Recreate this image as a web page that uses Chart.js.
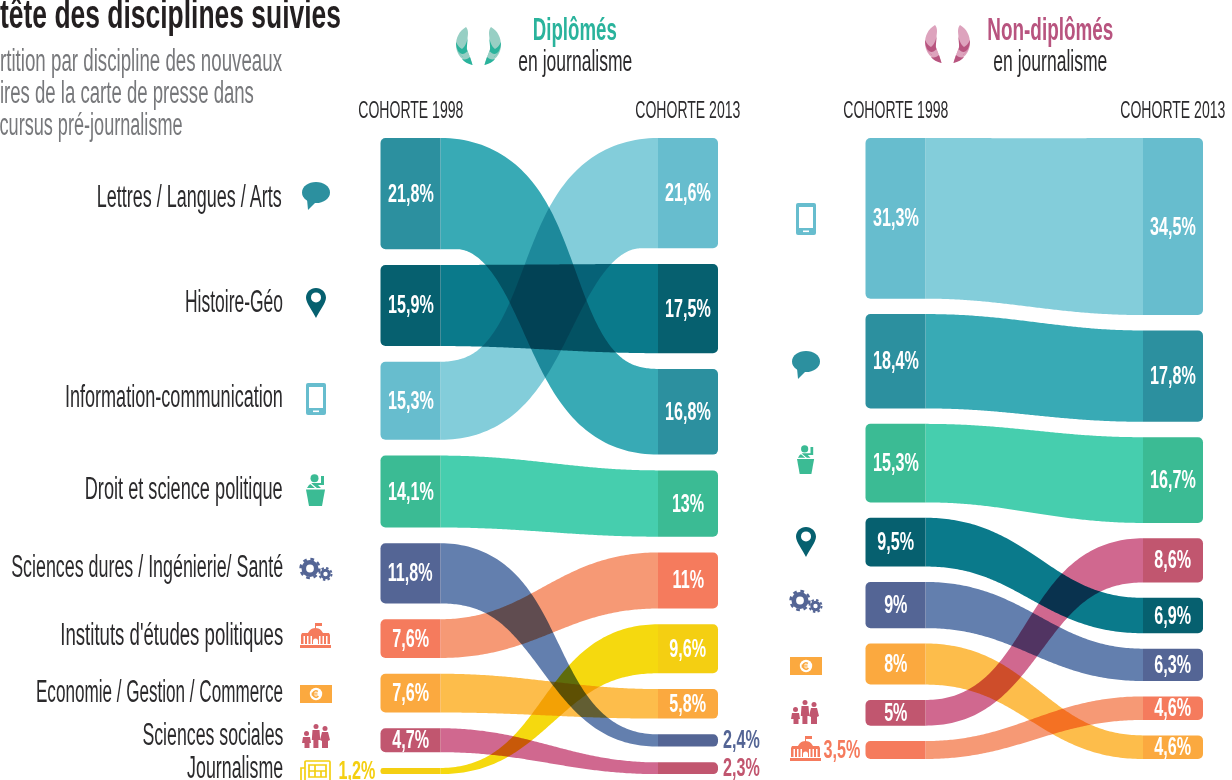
<!DOCTYPE html>
<html lang="fr">
<head>
<meta charset="utf-8">
<title>Disciplines suivies</title>
<script src="https://cdn.jsdelivr.net/npm/chart.js@4"></script>
<style>
html,body{margin:0;padding:0;background:#fff;width:1232px;height:780px;overflow:hidden}
canvas{position:absolute;left:0;top:0}
.t{position:absolute;white-space:nowrap;display:block}
svg.i{position:absolute;overflow:visible}
</style>
</head>
<body>
<canvas id="c1" width="1232" height="780"></canvas>
<canvas id="c2" width="1232" height="780"></canvas>
<script>
// ---------- data ----------
const categories = ['Lettres / Langues / Arts','Histoire-Géo','Information-communication','Droit et science politique','Sciences dures / Ingénierie/ Santé',"Instituts d'études politiques",'Economie / Gestion / Commerce','Sciences sociales','Journalisme'];
const diplomes1998 = [21.8,15.9,15.3,14.1,11.8,7.6,7.6,4.7,1.2];
const diplomes2013 = [16.8,17.5,21.6,13,2.4,11,5.8,2.3,9.6];
const nonDiplomes1998 = [18.4,9.5,31.3,15.3,9,3.5,8,5,null];
const nonDiplomes2013 = [17.8,6.9,34.5,16.7,6.3,4.6,4.6,8.6,null];
const cohortLabels = ['COHORTE 1998','COHORTE 2013'];
const nodeColors = ['#2C909F','#06606F','#67BDCE','#3BBB94','#546595','#F57B5D','#FBA93F','#C1566F','#F4CF12'];
const flowColors = ['#38AAB5','#0A7A8B','#83CDDA','#46CEAE','#637FAE','#F69975','#FDBD4B','#D0688F','#F5D90F'];
const iconNames = ['bubble','pin','phone','lectern','gears','school','euro','people','news'];

// ---------- layout ----------
const FONT = '"Liberation Sans Narrow","Liberation Sans",sans-serif';
const BAR = 60;
const measure = document.createElement('canvas').getContext('2d');
function put(text,o){
  const el=document.createElement('span');el.className='t';el.textContent=text;
  const weight=o.weight||400,size=o.size;
  measure.font=weight+' '+size+'px '+FONT;
  const nat=measure.measureText(text).width;
  const sx=o.w?o.w/nat:(o.sx||1);
  const a=o.anchor||'c';
  const left=a==='r'?o.x-nat:a==='c'?o.x-nat/2:o.x;
  el.style.cssText=`left:${left}px;top:${o.y-size/2}px;font:${weight} ${size}px/${size}px ${FONT};color:${o.color||'#2b2a2c'};transform:scaleX(${sx});transform-origin:${a==='r'?'right':a==='c'?'center':'left'} center`;
  document.body.appendChild(el);
}
function fmt(v){return String(v).replace('.',',')+'%'}

function stack(values,gap){
  const order=values.map((v,i)=>i).filter(i=>values[i]!=null).sort((a,b)=>values[b]-values[a]);
  const out=[];let pos=0;
  order.forEach(i=>{out[i]=[pos,pos+values[i]];pos+=values[i]+gap;});
  return out;
}

// a flow is a sigmoid centre line swept with a width that goes from one cohort's value to the other's
const STEPS=120;
function flowOutline(xa,xb,a0,a1,b0,b1){
  const c0=(a0+a1)/2,c1=(b0+b1)/2,h0=(a1-a0)/2,h1=(b1-b0)/2,w=xb-xa;
  const d=w*(0.38+0.2*Math.min(1,Math.abs(c1-c0)/218));
  const up=[],lo=[];
  for(let k=0;k<=STEPS;k++){
    const t=k/STEPS,u=1-t;
    const px=u*u*u*xa+3*u*u*t*(xa+d)+3*u*t*t*(xb-d)+t*t*t*xb;
    const py=u*u*u*c0+3*u*u*t*c0+3*u*t*t*c1+t*t*t*c1;
    const dx=3*(u*u*d+2*u*t*(w-2*d)+t*t*d);
    const dy=3*2*u*t*(c1-c0);
    const len=Math.hypot(dx,dy)||1;
    const cos=dx/len,sin=dy/len;
    const h=(h0+(h1-h0)*(t*t*(3-2*t)))*(1-0.45*(1-cos));
    up.push([px+sin*h,py-cos*h]);
    lo.push([px-sin*h,py+cos*h]);
  }
  return {up,lo};
}
const ribbonPlugin={
  id:'ribbons',
  beforeDatasetsDraw(chart){
    const {ctx,scales:{x,y}}=chart;
    const xa=x.getPixelForValue(0)+BAR/2, xb=x.getPixelForValue(1)-BAR/2;
    ctx.save();
    ctx.globalCompositeOperation='multiply';
    chart.data.datasets.forEach(ds=>{
      const [a,b]=ds.data;
      const {up,lo}=flowOutline(xa,xb,y.getPixelForValue(a[0]),y.getPixelForValue(a[1]),y.getPixelForValue(b[0]),y.getPixelForValue(b[1]));
      ctx.beginPath();
      up.forEach((p,i)=>i?ctx.lineTo(p[0],p[1]):ctx.moveTo(p[0],p[1]));
      lo.reverse().forEach(p=>ctx.lineTo(p[0],p[1]));
      ctx.closePath();
      ctx.fillStyle=ds.flowColor;
      ctx.fill();
    });
    ctx.restore();
  }
};

function panel(id,v98,v13,gap,maxY,xl,xr,bottom,outside){
  const s98=stack(v98,gap),s13=stack(v13,gap);
  const datasets=categories.map((name,i)=>v98[i]==null?null:({
    label:name,
    data:[s98[i],s13[i]],
    backgroundColor:nodeColors[i],
    flowColor:flowColors[i],
    grouped:false,
    barThickness:BAR,
    clip:false,
    borderWidth:0,
    borderSkipped:false,
    inflateAmount:0,
    borderRadius:c=>{
      const r=Math.min(5,Math.abs(c.parsed._custom?c.parsed._custom.max-c.parsed._custom.min:5)*2);
      return c.dataIndex===0?{topLeft:r,bottomLeft:r,topRight:0,bottomRight:0}:{topLeft:0,bottomLeft:0,topRight:r,bottomRight:r};
    }
  })).filter(Boolean);
  const chart=new Chart(document.getElementById(id),{
    type:'bar',
    data:{labels:cohortLabels,datasets},
    plugins:[ribbonPlugin],
    options:{
      responsive:false,animation:false,
      layout:{padding:{left:xl,right:1232-xr,top:138,bottom:780-bottom}},
      plugins:{legend:{display:false},tooltip:{enabled:false}},
      scales:{
        x:{type:'category',offset:false,display:false},
        y:{type:'linear',reverse:true,min:0,max:maxY,display:false}
      }
    }
  });
  const {x,y}=chart.scales;
  cohortLabels.forEach((l,k)=>put(l,{x:x.getPixelForValue(k),y:109.5,size:24,w:105}));
  [[v98,s98,0],[v13,s13,1]].forEach(([vals,st,k])=>{
    vals.forEach((v,i)=>{
      if(v==null)return;
      const cy=y.getPixelForValue((st[i][0]+st[i][1])/2);
      const cx=x.getPixelForValue(k);
      if(outside[k+':'+i]){
        const left=k===0;
        put(fmt(v),{x:left?cx-BAR/2-5:cx+BAR/2+5,y:cy-1,size:26,weight:700,sx:.62,color:nodeColors[i],anchor:left?'r':'l'});
      }else{
        put(fmt(v),{x:cx,y:cy-1,size:26,weight:700,sx:.62,color:'#fff'});
      }
    });
  });
  return chart;
}

const ICONS={
 bubble:(c)=>`<svg viewBox="0 0 28 28"><ellipse cx="14" cy="10.5" rx="14" ry="10.5" fill="${c}"/><path d="M5 17L6 28 14 20z" fill="${c}"/></svg>`,
 pin:(c)=>`<svg viewBox="0 0 20 30"><path fill="${c}" d="M10 0C4.4 0 0 4.4 0 9.8 0 15 6.800 23.500 10 30 13.200 23.500 20 15 20 9.800 20 4.400 15.600 0 10 0z"/><circle cx="10" cy="9.400" r="5" fill="#fff"/></svg>`,
 phone:(c)=>`<svg viewBox="0 0 20 32"><rect width="20" height="32" rx="2" fill="${c}"/><rect x="3" y="4" width="14" height="21" fill="#fff"/><rect x="7" y="27.500" width="6" height="1.600" fill="#fff"/></svg>`,
 lectern:(c)=>`<svg viewBox="0 0 20 32"><circle cx="8.500" cy="4.200" r="4" fill="${c}"/><path fill="${c}" d="M15 2h3v9h-6l3 3H1l2-3 3-2h9z"/><path d="M4 9l7 6" stroke="#fff" stroke-width="1.200"/><path fill="${c}" d="M0 15.500h19L16 32H3z"/></svg>`,
 gears:(c)=>`<svg viewBox="0 0 34 24"><circle cx="11" cy="10.500" r="6.200" fill="none" stroke="${c}" stroke-width="4.600"/><circle cx="11" cy="10.500" r="9.400" fill="none" stroke="${c}" stroke-width="2.600" stroke-dasharray="3.700 3.700"/><circle cx="26.500" cy="16" r="3.700" fill="none" stroke="${c}" stroke-width="3"/><circle cx="26.500" cy="16" r="6" fill="none" stroke="${c}" stroke-width="2" stroke-dasharray="2.400 2.300"/></svg>`,
 school:(c)=>`<svg viewBox="0 0 31 25"><path fill="${c}" d="M15 0h7v3h-6v3h-1z"/><path fill="${c}" d="M15.500 5C11 5 9 8 8 10H2l-1 2v9h29v-9l-1-2h-6c-1-2-3-5-7.500-5z"/><path fill="#fff" d="M3.500 13h1.500v8H3.500zM7 13h1.500v8H7zM10.500 13H12v8h-1.500zM19 13h1.500v8H19zM22.500 13H24v8h-1.500zM26 13h1.500v8H26z"/><path fill="#fff" d="M13 21v-3a2.500 2.500 0 0 1 5 0v3z"/><rect y="22" width="31" height="3" fill="${c}"/></svg>`,
 euro:(c)=>`<svg viewBox="0 0 32 18"><rect width="32" height="18" fill="${c}"/><circle cx="16" cy="9" r="6.200" fill="#fff"/><circle cx="16" cy="9" r="3.100" fill="none" stroke="${c}" stroke-width="1.600" stroke-dasharray="14 6" transform="rotate(40 16 9)"/><path d="M11.500 8.200h6M11.500 9.900h6" stroke="${c}" stroke-width="1"/></svg>`,
 people:(c)=>`<svg viewBox="0 0 28 24"><g fill="${c}"><circle cx="4.500" cy="9.500" r="2.500"/><path d="M1 13h7l1 6H7.500v5h-5v-5H0z"/><circle cx="14" cy="2.500" r="2.500"/><path d="M10.500 6h7l.7 10h-1.800v8h-5v-8h-1.600z"/><circle cx="23" cy="4.500" r="2.500"/><path d="M20 8h6l2 8-2 1v7h-6v-7l-2-1z"/></g></svg>`,
 news:(c)=>`<svg viewBox="0 0 31 21"><g fill="none" stroke="${c}" stroke-width="1.700"><rect x="5" y="1" width="25" height="20" rx="1"/><path d="M5 8H1v12a1 1 0 0 0 1 1h4"/><path d="M9 5h17v12H9zM9 11h17M15 5v12M21 11v6"/></g></svg>`
};
function icon(i,left,top,w,h){
  const holder=document.createElement('div');
  holder.innerHTML=ICONS[iconNames[i]](nodeColors[i]);
  const s=holder.firstChild;
  s.setAttribute('class','i');
  s.style.left=left+'px';s.style.top=top+'px';s.style.width=w+'px';s.style.height=h+'px';
  document.body.appendChild(s);
}
function laurel(x,y,dark,light){
  const half=`<path fill="${light}" d="M10 0C3 4 0 11 0 18 0 27 6 34 16.500 38 15 32 13 28 11 22 10 19 12 10 12 6 12 3 11 1 10 0z"/><path fill="${dark}" d="M0 15C2 19 4 21 6 22 9 20 11 15 11.500 11 11.500 17 10.500 20 11 23L12 25.500C9 27 7 29 7 30 3 27 0 22 0 15z"/><path fill="${light}" d="M2 24C5 28 8 28 11.500 24L13.500 29C10 33 5 30 2 24z"/><path fill="${dark}" d="M6 32C9 33 12 32 14 30 15 33 16 36 16.500 38 12 37 8 35 6 32z"/>`;
  const s=`<svg class="i" viewBox="0 0 45 38" style="left:${x}px;top:${y}px;width:45px;height:38px"><g>${half}</g><g transform="translate(45 0) scale(-1 1)">${half}</g></svg>`;
  const d=document.createElement('div');d.innerHTML=s;document.body.appendChild(d.firstChild);
}

// ---------- charts ----------
panel('c1',diplomes1998,diplomes2013,3.09,124.7,410.5,688,774,{'0:8':1,'1:4':1,'1:7':1});
panel('c2',nonDiplomes1998,nonDiplomes2013,3.0,121,895.5,1173,759,{'0:5':1});

// ---------- texts ----------
put('tête des disciplines suivies',{x:0,y:14,size:41,weight:700,w:341,anchor:'l',color:'#231f20'});
put('rtition par discipline des nouveaux',{x:282,y:60,size:31,w:282,anchor:'r',color:'#77787b'});
put('ires de la carte de presse dans',{x:254,y:92,size:31,w:254,anchor:'r',color:'#77787b'});
put('cursus pré-journalisme',{x:183,y:124,size:31,w:183,anchor:'r',color:'#77787b'});
put('Diplômés',{x:575,y:29,size:31,weight:700,w:84,color:'#2AB39C'});
put('en journalisme',{x:575,y:61,size:29,w:114});
put('Non-diplômés',{x:1050,y:29,size:31,weight:700,w:126,color:'#B8547F'});
put('en journalisme',{x:1050,y:61,size:29,w:114});
laurel(456,27,'#2AB39C','#97CFC4');
laurel(925,25,'#B8547F','#DDA3BD');

const labelCenters=[196,301,396,488,566,634,691,734,767];
const labelWidths=[186,98,218,198,272,223,247,141,96];
categories.forEach((c,i)=>put(c,{x:283,y:labelCenters[i],size:31,w:labelWidths[i],anchor:'r'}));

[[0,302,182,28,28],[1,306,288,20,30],[2,306,383,20,32],[3,306,474,20,32],[4,299,558,34,24],[5,300,623,31,25],[6,300,685,32,18],[7,302,724,28,24],[8,300,760,31,21]].forEach(a=>icon(...a));
[[2,796,203,20,32],[0,792,351,28,28],[3,797,443,18,33],[1,796,527,20,30],[4,789,590,34,24],[6,790,657,32,18],[7,791,700,28,24],[5,790,736,31,25]].forEach(a=>icon(...a));
</script>
</body>
</html>
